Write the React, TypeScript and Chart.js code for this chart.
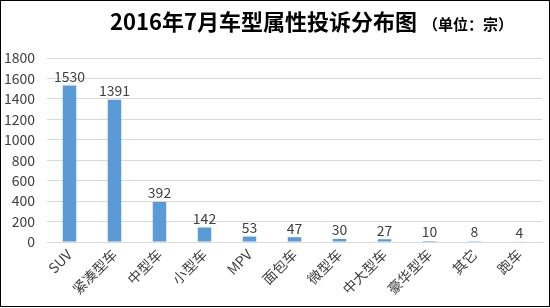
import React, { useEffect, useRef } from "react";
import { Chart, registerables } from "chart.js";

Chart.register(...registerables);

// 车型分类与投诉数量
const categories = ["SUV", "紧凑型车", "中型车", "小型车", "MPV", "面包车", "微型车", "中大型车", "豪华型车", "其它", "跑车"];
const complaints = [1530, 1391, 392, 142, 53, 47, 30, 27, 10, 8, 4];
const yTicks = [0, 200, 400, 600, 800, 1000, 1200, 1400, 1600, 1800];

const mainTitle = "2016年7月车型属性投诉分布图";
const unitTitle = "（单位：宗）";

const FONT = "'Noto Sans CJK SC', 'Noto Sans', sans-serif";
const TEXT_COLOR = "#404040";

// 画标题（主标题加粗大字 + 单位小字）
const titlePlugin = {
  id: "titleText",
  afterDraw(chart: any) {
    const ctx = chart.ctx;
    ctx.save();
    ctx.fillStyle = "#000000";
    ctx.textBaseline = "middle";
    ctx.textAlign = "left";
    const x0 = 110;
    const mainWidth = 307;
    const unitX = 423;
    const unitWidth = 87;
    // 主标题：按目标宽度确定字号
    ctx.font = `bold 20px ${FONT}`;
    const m = ctx.measureText(mainTitle).width;
    const size = Math.min(24, (20 * mainWidth) / m);
    ctx.font = `bold ${size.toFixed(2)}px ${FONT}`;
    ctx.fillText(mainTitle, x0, 22);
    // 单位：字间距拉开
    ctx.font = `bold 15px ${FONT}`;
    const u = ctx.measureText(unitTitle).width;
    const spacing = Math.max(0, (unitWidth - u) / (unitTitle.length - 1));
    let x = unitX;
    for (const ch of unitTitle) {
      ctx.fillText(ch, x, 24);
      x += ctx.measureText(ch).width + spacing;
    }
    ctx.restore();
  },
};

// 柱顶数值标签
const valueLabelPlugin = {
  id: "valueLabels",
  afterDatasetsDraw(chart: any) {
    const ctx = chart.ctx;
    const meta = chart.getDatasetMeta(0);
    ctx.save();
    ctx.font = `14px ${FONT}`;
    ctx.fillStyle = TEXT_COLOR;
    ctx.textAlign = "center";
    ctx.textBaseline = "bottom";
    meta.data.forEach((bar: any, i: number) => {
      ctx.fillText(String(complaints[i]), bar.x, bar.y - 2);
    });
    ctx.restore();
  },
};

export default function App() {
  const canvasRef = useRef<HTMLCanvasElement>(null);

  useEffect(() => {
    document.body.style.margin = "0";
    const canvas = canvasRef.current;
    if (!canvas) return;
    const chart = new Chart(canvas, {
      type: "bar",
      data: {
        labels: categories,
        datasets: [
          {
            data: complaints,
            backgroundColor: "#5b9bd5",
            barPercentage: 0.3,
            categoryPercentage: 1,
          },
        ],
      },
      options: {
        responsive: false,
        animation: false,
        events: [],
        layout: { padding: { top: 58, left: 0, right: 8, bottom: 4 } },
        plugins: {
          legend: { display: false },
          tooltip: { enabled: false },
          title: { display: false },
        },
        scales: {
          x: {
            grid: { display: false, drawTicks: false },
            border: { display: true, color: "#d9d9d9", width: 1 },
            ticks: {
              color: TEXT_COLOR,
              font: { family: FONT, size: 14 },
              minRotation: 45,
              maxRotation: 45,
              autoSkip: false,
              padding: 4,
            },
            afterFit(axis: any) {
              axis.height = 62;
            },
          },
          y: {
            min: 0,
            max: 1800,
            afterBuildTicks(axis: any) {
              axis.ticks = yTicks.map((v) => ({ value: v }));
            },
            grid: { color: "#d9d9d9", drawTicks: false, lineWidth: 1 },
            border: { display: false },
            ticks: {
              color: TEXT_COLOR,
              font: { family: FONT, size: 14 },
              padding: 12,
              callback: (v: any) => String(v),
            },
            afterFit(axis: any) {
              axis.width = 47;
            },
          },
        },
      },
      plugins: [titlePlugin, valueLabelPlugin],
    });
    return () => chart.destroy();
  }, []);

  return (
    <div style={{ width: 550, height: 308, position: "relative", background: "#ffffff" }}>
      <canvas ref={canvasRef} width={550} height={308} style={{ display: "block" }} />
      <div
        style={{
          position: "absolute",
          left: 0,
          top: 0,
          width: 548,
          height: 305,
          border: "1px solid #000000",
          pointerEvents: "none",
        }}
      />
    </div>
  );
}
